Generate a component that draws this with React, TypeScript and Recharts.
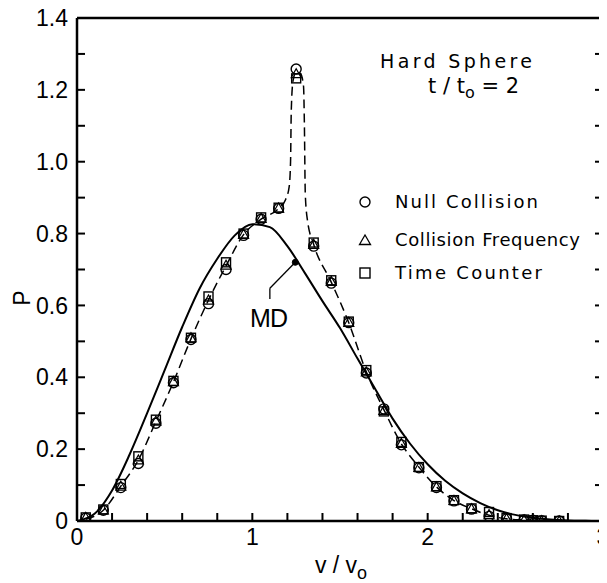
import React from 'react';
import { ComposedChart, Line, Scatter, XAxis, YAxis, ReferenceLine, ReferenceDot } from 'recharts';

// x axis ticks (v / v0) and y axis ticks (P)
const xTicks = [0, 0.2, 0.4, 0.6, 0.8, 1.0, 1.2, 1.4, 1.6, 1.8, 2.0, 2.2, 2.4, 2.6, 2.8, 3.0];
const yTicks = [0, 0.1, 0.2, 0.3, 0.4, 0.5, 0.6, 0.7, 0.8, 0.9, 1.0, 1.1, 1.2, 1.3, 1.4];

// MD (solid curve)
const mdV = [0, 0.1, 0.2, 0.3, 0.4, 0.5, 0.6, 0.7, 0.8, 0.9, 1.0, 1.1, 1.2, 1.3, 1.4, 1.5, 1.6, 1.7, 1.8, 1.9, 2.0, 2.1, 2.2, 2.3, 2.4, 2.5, 2.6, 2.7, 2.8, 2.9, 3.0];
const mdP = [0, 0.02, 0.085, 0.185, 0.3, 0.42, 0.54, 0.648, 0.73, 0.795, 0.826, 0.818, 0.765, 0.69, 0.612, 0.537, 0.452, 0.368, 0.285, 0.215, 0.158, 0.112, 0.077, 0.05, 0.03, 0.017, 0.009, 0.004, 0.0015, 0.0005, 0];

// simulation (dashed curve)
const dashV = [0.05, 0.15, 0.25, 0.35, 0.45, 0.55, 0.65, 0.75, 0.85, 0.95, 1.05, 1.15, 1.19, 1.21, 1.218, 1.222, 1.232, 1.25, 1.275, 1.292, 1.297, 1.302, 1.315, 1.35, 1.45, 1.55, 1.65, 1.75, 1.85, 1.95, 2.05, 2.15, 2.25, 2.35, 2.45, 2.55, 2.65, 2.75];
const dashP = [0.005, 0.03, 0.097, 0.17, 0.277, 0.387, 0.507, 0.615, 0.71, 0.797, 0.84, 0.87, 0.895, 0.93, 1.0, 1.14, 1.225, 1.25, 1.245, 1.21, 1.1, 0.91, 0.835, 0.77, 0.665, 0.552, 0.415, 0.31, 0.215, 0.15, 0.095, 0.057, 0.034, 0.016, 0.006, 0.003, 0.001, 0];

// marker positions
const markV = [0.05, 0.15, 0.25, 0.35, 0.45, 0.55, 0.65, 0.75, 0.85, 0.95, 1.05, 1.15, 1.25, 1.35, 1.45, 1.55, 1.65, 1.75, 1.85, 1.95, 2.05, 2.15, 2.25, 2.35, 2.45, 2.55, 2.6, 2.65, 2.75];
const nullP = [0.008, 0.03, 0.093, 0.16, 0.272, 0.385, 0.505, 0.605, 0.70, 0.795, 0.84, 0.87, 1.258, 0.765, 0.662, 0.552, 0.412, 0.312, 0.212, 0.148, 0.093, 0.056, 0.033, 0.013, 0.006, 0.003, 0.002, 0.001, 0];
const freqP = [0.01, 0.031, 0.097, 0.17, 0.278, 0.388, 0.51, 0.615, 0.712, 0.798, 0.842, 0.871, 1.245, 0.77, 0.667, 0.553, 0.415, 0.308, 0.216, 0.149, 0.095, 0.057, 0.034, 0.018, 0.007, 0.003, 0.002, 0.001, 0];
const timeP = [0.01, 0.032, 0.103, 0.18, 0.282, 0.39, 0.51, 0.625, 0.72, 0.80, 0.845, 0.872, 1.232, 0.775, 0.67, 0.555, 0.42, 0.305, 0.22, 0.15, 0.097, 0.058, 0.035, 0.025, 0.008, 0.004, 0.002, 0.001, 0];

// MD annotation
const mdDot = { v: 1.245, p: 0.72 };
const mdElbow = { v: 1.1, p: 0.648 };
const mdFoot = { v: 1.1, p: 0.618 };

const legendItems = [
  { label: 'Null Collision', shape: 'circle' },
  { label: 'Collision Frequency', shape: 'triangle' },
  { label: 'Time Counter', shape: 'square' },
];

const mdData = mdV.map((v, i) => ({ v, p: mdP[i] }));
const dashData = dashV.map((v, i) => ({ v, p: dashP[i] }));
const nullData = markV.map((v, i) => ({ v, p: nullP[i] }));
const freqData = markV.map((v, i) => ({ v, p: freqP[i] }));
const timeData = markV.map((v, i) => ({ v, p: timeP[i] }));

const FONT = '"Liberation Sans", Arial, sans-serif';
const LFONT = '"DejaVu Sans", sans-serif';
const TICK_LEN = 8;
const TICK_W = 2;

const circleShape = (props: any) => (
  <circle cx={props.cx} cy={props.cy} r={5} fill="none" stroke="#000" strokeWidth={1.4} />
);
const squareShape = (props: any) => (
  <rect x={props.cx - 4.5} y={props.cy - 4.5} width={9} height={9} fill="none" stroke="#000" strokeWidth={1.4} />
);
const triangleShape = (props: any) => (
  <polygon
    points={`${props.cx},${props.cy - 5} ${props.cx - 5},${props.cy + 4} ${props.cx + 5},${props.cy + 4}`}
    fill="none"
    stroke="#000"
    strokeWidth={1.2}
  />
);

const xFmt = (v: number) => (Math.abs(v - Math.round(v)) < 1e-6 ? String(Math.round(v)) : '');
const yFmt = (v: number) => {
  const k = Math.round(v * 10);
  if (k % 2 !== 0) return '';
  return k === 0 ? '0' : (k / 10).toFixed(1);
};

const axisLine = { stroke: '#000', strokeWidth: 2.5 };
const BOTTOM_MARGIN = 8;
const LEFT_MARGIN = 9;

// inward tick marks + labels
const BottomTick = (p: any) => {
  const y0 = p.y - BOTTOM_MARGIN;
  return (
    <g>
      <path d={`M${p.x},${y0}V${y0 - TICK_LEN}`} stroke="#000" strokeWidth={TICK_W} fill="none" />
      <text x={p.x} y={p.y} dy="0.71em" textAnchor="middle" fontSize={23} fontFamily={FONT} fill="#000">
        {xFmt(p.payload.value)}
      </text>
    </g>
  );
};
const TopTick = (p: any) => (
  <path d={`M${p.x},${p.y}V${p.y + TICK_LEN}`} stroke="#000" strokeWidth={TICK_W} fill="none" />
);
const LeftTick = (p: any) => {
  const x0 = p.x + LEFT_MARGIN;
  return (
    <g>
      <path d={`M${x0},${p.y}H${x0 + TICK_LEN}`} stroke="#000" strokeWidth={TICK_W} fill="none" />
      <text x={p.x} y={p.y} dy="0.355em" textAnchor="end" fontSize={23} fontFamily={FONT} fill="#000">
        {yFmt(p.payload.value)}
      </text>
    </g>
  );
};
const RightTick = (p: any) => (
  <path d={`M${p.x},${p.y}H${p.x - TICK_LEN}`} stroke="#000" strokeWidth={TICK_W} fill="none" />
);

const LegendMarker = ({ shape, x, y }: { shape: string; x: number; y: number }) => {
  if (shape === 'circle') return <circle cx={x} cy={y} r={5} fill="none" stroke="#000" strokeWidth={1.4} />;
  if (shape === 'triangle')
    return <polygon points={`${x},${y - 5} ${x - 5.5},${y + 4.5} ${x + 5.5},${y + 4.5}`} fill="none" stroke="#000" strokeWidth={1.3} />;
  return <rect x={x - 5} y={y - 5} width={10} height={10} fill="none" stroke="#000" strokeWidth={1.4} />;
};

export default function App() {
  const legendTop = [202, 240, 273];
  const legendWidths = [143, 185, 147];
  return (
    <div style={{ position: 'relative', width: 607, height: 583, margin: '-8px 0 0 -8px', overflow: 'hidden' }}>
      <ComposedChart width={607} height={583} margin={{ top: 10, right: 0, bottom: 0, left: 0 }}>
        <XAxis
          xAxisId="b"
          dataKey="v"
          type="number"
          domain={[0, 3]}
          ticks={xTicks}
          interval={0}
          allowDataOverflow
          tickSize={0}
          tickMargin={BOTTOM_MARGIN}
          tickLine={false}
          height={62}
          axisLine={axisLine}
          tick={BottomTick}
        />
        <XAxis
          xAxisId="t"
          orientation="top"
          type="number"
          domain={[0, 3]}
          ticks={xTicks}
          interval={0}
          allowDataOverflow
          tickSize={0}
          tickMargin={0}
          tickLine={false}
          height={8}
          axisLine={axisLine}
          tick={TopTick}
        />
        <YAxis
          yAxisId="l"
          dataKey="p"
          type="number"
          domain={[0, 1.4]}
          ticks={yTicks}
          interval={0}
          allowDataOverflow
          tickSize={0}
          tickMargin={LEFT_MARGIN}
          tickLine={false}
          width={77}
          axisLine={axisLine}
          tick={LeftTick}
        />
        <YAxis
          yAxisId="r"
          orientation="right"
          type="number"
          domain={[0, 1.4]}
          ticks={yTicks}
          interval={0}
          allowDataOverflow
          tickSize={0}
          tickMargin={0}
          tickLine={false}
          width={4}
          axisLine={axisLine}
          tick={RightTick}
        />
        <Line
          xAxisId="b"
          yAxisId="l"
          data={mdData}
          dataKey="p"
          type="monotone"
          stroke="#000"
          strokeWidth={2}
          dot={false}
          activeDot={false}
          isAnimationActive={false}
        />
        <Line
          xAxisId="b"
          yAxisId="l"
          data={dashData}
          dataKey="p"
          type="monotone"
          stroke="#000"
          strokeWidth={1.5}
          strokeDasharray="9 5"
          dot={false}
          activeDot={false}
          isAnimationActive={false}
        />
        <Scatter xAxisId="b" yAxisId="l" data={timeData} dataKey="p" shape={squareShape} isAnimationActive={false} />
        <Scatter xAxisId="b" yAxisId="l" data={freqData} dataKey="p" shape={triangleShape} isAnimationActive={false} />
        <Scatter xAxisId="b" yAxisId="l" data={nullData} dataKey="p" shape={circleShape} isAnimationActive={false} />
        <ReferenceLine
          xAxisId="b"
          yAxisId="l"
          segment={[{ x: mdFoot.v, y: mdFoot.p }, { x: mdElbow.v, y: mdElbow.p }]}
          stroke="#000"
          strokeWidth={1.3}
        />
        <ReferenceLine
          xAxisId="b"
          yAxisId="l"
          segment={[{ x: mdElbow.v, y: mdElbow.p }, { x: mdDot.v, y: mdDot.p }]}
          stroke="#000"
          strokeWidth={1.3}
        />
        <ReferenceDot xAxisId="b" yAxisId="l" x={mdDot.v} y={mdDot.p} r={3} fill="#000" stroke="#000" />
      </ComposedChart>
      <svg width={607} height={583} style={{ position: 'absolute', left: 0, top: 0, pointerEvents: 'none' }}>
        <text x={22} y={298} transform="rotate(-90 22 298)" textAnchor="middle" dominantBaseline="central" fontSize={23} fontFamily={FONT}>
          P
        </text>
        <text x={341} y={573} textAnchor="middle" fontSize={23} fontFamily={FONT}>
          v / v
          <tspan fontSize={18} dy={6}>o</tspan>
        </text>
        <text x={380} y={68} fontSize={19} fontFamily={LFONT} textLength={152} lengthAdjust="spacing">
          Hard Sphere
        </text>
        <text x={428} y={93} fontSize={21} fontFamily={LFONT}>
          t / t<tspan fontSize={16} dy={5}>o</tspan>
          <tspan dy={-5}> = 2</tspan>
        </text>
        {legendItems.map((it, i) => (
          <g key={it.label}>
            <LegendMarker shape={it.shape} x={365} y={legendTop[i]} />
            <text x={395} y={legendTop[i] + 6} fontSize={18} fontFamily={LFONT} textLength={legendWidths[i]} lengthAdjust="spacing">
              {it.label}
            </text>
          </g>
        ))}
        <text x={250} y={327} fontSize={25} fontFamily={FONT} textLength={38} lengthAdjust="spacing">
          MD
        </text>
      </svg>
    </div>
  );
}
